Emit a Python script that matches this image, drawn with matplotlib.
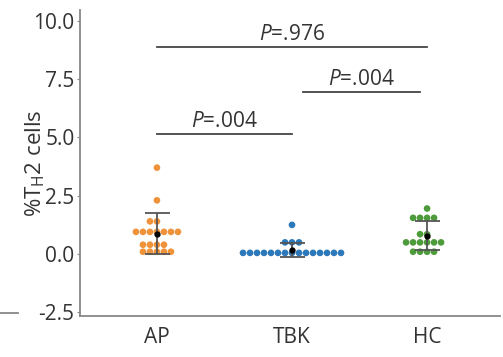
import numpy as np
import pandas as pd
import matplotlib
matplotlib.use("Agg")
import matplotlib.pyplot as plt
import seaborn as sns
from matplotlib.lines import Line2D

# values
groups = ["AP", "TBK", "HC"]
ap = [3.7, 2.3, 1.4, 1.4, 0.95, 0.95, 0.95, 0.95, 0.95, 0.95, 0.95,
      0.4, 0.4, 0.4, 0.4, 0.1, 0.1, 0.1, 0.1, 0.1]
tbk = [1.25, 0.5, 0.5, 0.5] + [0.05] * 15
hc = [1.95, 1.55, 1.55, 1.55, 1.55, 0.85, 0.85,
      0.5, 0.5, 0.5, 0.5, 0.5, 0.5, 0.1, 0.1, 0.1, 0.1]
colors = ["#f0923a", "#2b78ba", "#4e9b3c"]

comparisons = [(0, 2, 8.85, "=.976"), (1.08, 1.95, 6.95, "=.004"), (0, 1, 5.15, "=.004")]

plt.rcParams['font.family'] = ['Open Sans', 'DejaVu Sans']
plt.rcParams['mathtext.fontset'] = 'custom'
plt.rcParams['mathtext.rm'] = 'Open Sans'
plt.rcParams['mathtext.it'] = 'Open Sans:italic'

df = pd.DataFrame({
    "group": ["AP"] * len(ap) + ["TBK"] * len(tbk) + ["HC"] * len(hc),
    "value": ap + tbk + hc,
})

fig = plt.figure(figsize=(5.03, 3.57), dpi=100)
ax = fig.add_axes([0.159, 0.115, 0.835, 0.857])

sns.swarmplot(data=df, x="group", y="value", order=groups, hue="group",
              palette=colors, size=4.8, ax=ax, legend=False, zorder=2)

for i, vals in enumerate([ap, tbk, hc]):
    m = np.mean(vals)
    s = np.std(vals, ddof=1)
    ax.errorbar(i, m, yerr=s, fmt='none', ecolor='#555555', elinewidth=1.3,
                capsize=9, capthick=1.3, zorder=3)
    ax.plot(i, m, 'o', color='black', markersize=3.5, zorder=4)

for a, b, h, txt in comparisons:
    ax.plot([a, b], [h, h], color='#444444', lw=1.3)
    ax.text((a + b) / 2, h + 0.08, r"$\it{P}$" + txt, ha='center', va='bottom',
            fontsize=15, color='#333333')

ax.set_xlim(-0.57, 2.54)
ax.set_ylim(-2.65, 10.45)
ax.set_yticks([-2.5, 0.0, 2.5, 5.0, 7.5, 10.0])
ax.set_yticklabels(["-2.5", "0.0", "2.5", "5.0", "7.5", "10.0"])
ax.set_xlabel("")
ax.set_ylabel(r"%T$_\mathrm{H}$2 cells", fontsize=16, color='#333333', labelpad=-10)
ax.tick_params(axis='y', labelsize=15, length=2, colors='#888888', labelcolor='#333333', pad=2)
ax.tick_params(axis='x', labelsize=15, length=0, labelcolor='#333333', pad=8)
for side in ['top', 'right']:
    ax.spines[side].set_visible(False)
for side in ['left', 'bottom']:
    ax.spines[side].set_color('#888888')
    ax.spines[side].set_linewidth(1.3)

# stray line from the neighbouring panel
fig.add_artist(Line2D([0.0, 0.036], [0.123, 0.123], color='#888888', lw=1.3,
                      transform=fig.transFigure))

fig.savefig("out.png", dpi=100)
